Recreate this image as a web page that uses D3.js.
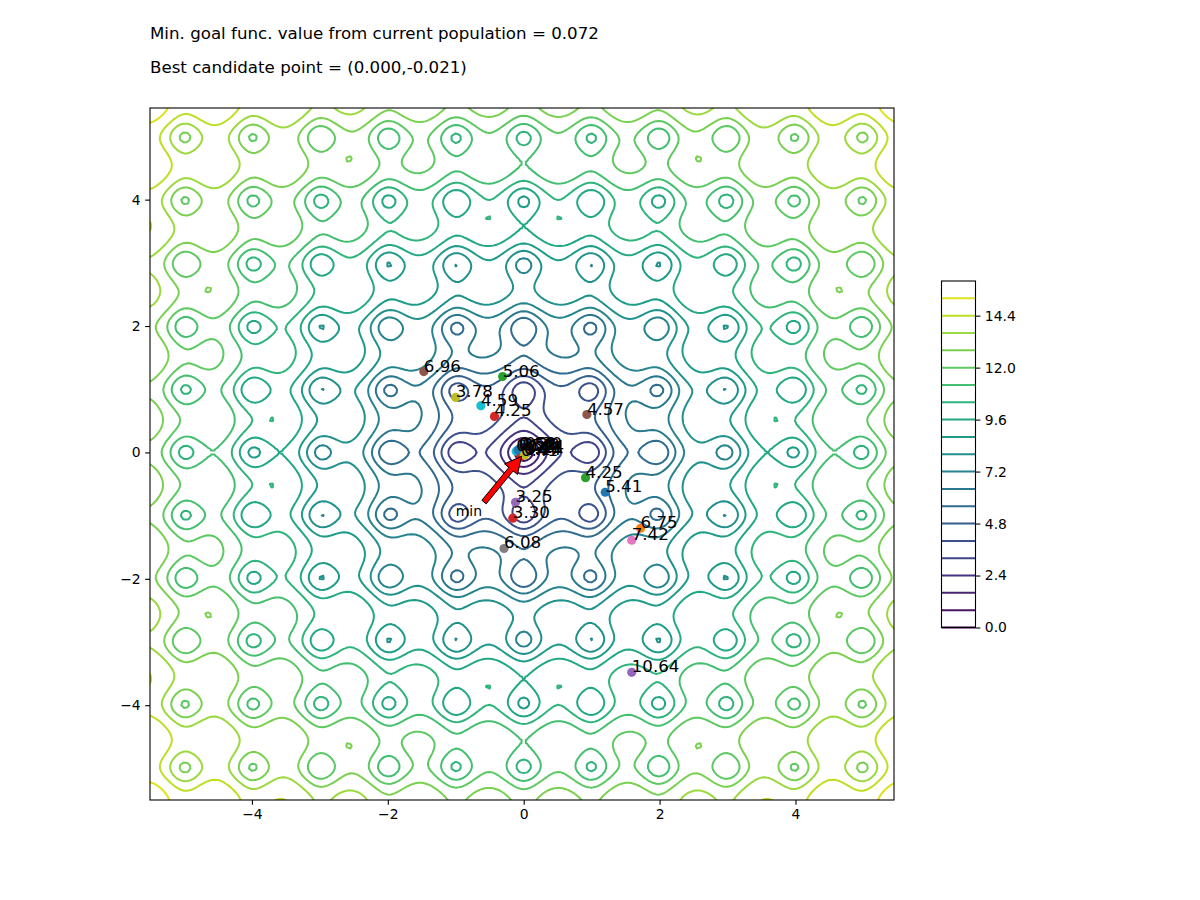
<!DOCTYPE html>
<html>
<head>
<meta charset="utf-8">
<script src="https://cdn.jsdelivr.net/npm/d3@7"></script>
<style>
  html, body { margin: 0; padding: 0; background: #fff; }
  svg { display: block; }
  text { font-family: "DejaVu Sans", sans-serif; fill: #000; }
</style>
</head>
<body>
<svg id="chart" width="1200" height="900"></svg>
<script>
// ---------------- data ----------------
const titleLines = [
  "Min. goal func. value from current population = 0.072",
  "Best candidate point = (0.000,-0.021)"
];
// grid of the goal function (Ackley), np.arange(-5.5, 5.5, 0.05)
const gridStart = -5.5, gridStop = 5.5, gridStep = 0.05;
const goalFunc = (x, y) =>
  -20 * Math.exp(-0.2 * Math.sqrt(0.5 * (x * x + y * y)))
  - Math.exp(0.5 * (Math.cos(2 * Math.PI * x) + Math.cos(2 * Math.PI * y)))
  + Math.E + 20;

const contourLevels = [0.0, 0.8, 1.6, 2.4, 3.2, 4.0, 4.8, 5.6, 6.4, 7.2, 8.0, 8.8,
                       9.6, 10.4, 11.2, 12.0, 12.8, 13.6, 14.4, 15.2];
const colorbarTicks = [0.0, 2.4, 4.8, 7.2, 9.6, 12.0, 14.4];
const xTicks = [-4, -2, 0, 2, 4];
const yTicks = [-4, -2, 0, 2, 4];

// population points
const popX = [-1.47, -0.31, -1.00, -0.63, -0.43, 0.93, 0.91, 1.20, -0.12, -0.16, -0.29, 1.72, 1.59, 1.59,
              -0.11, -0.04, 0.04, 0.00, -0.06, -0.02, 0.02, 0.05, -0.08, 0.01];
const popY = [1.28, 1.20, 0.87, 0.74, 0.57, 0.60, -0.40, -0.63, -0.79, -1.04, -1.52, -1.20, -1.39, -3.48,
              0.02, -0.06, -0.01, -0.021, 0.06, 0.04, 0.05, 0.01, 0.04, -0.04];
const popLabels = ["6.96", "5.06", "3.78", "4.59", "4.25", "4.57", "4.25", "5.41", "3.25", "3.30", "6.08",
                   "6.75", "7.42", "10.64",
                   "0.59", "0.41", "0.21", "0.07", "0.52", "0.28", "0.30", "0.24", "0.50", "0.14"];
const popColors = ["#8c564b", "#2ca02c", "#bcbd22", "#17becf", "#d62728", "#8c564b", "#2ca02c", "#1f77b4",
                   "#9467bd", "#d62728", "#7f7f7f", "#ff7f0e", "#e377c2", "#9467bd",
                   "#17becf", "#d62728", "#2ca02c", "#1f77b4", "#ff7f0e", "#9467bd", "#8c564b", "#e377c2",
                   "#1f77b4", "#bcbd22"];

const bestPoint = [0.000, -0.021];
const minTextPos = [-1.0, -1.0];
const minText = "min";

// ---------------- layout ----------------
const svg = d3.select("#chart");
const ax = { left: 150, top: 108, right: 894, bottom: 800 };
const cb = { left: 941.5, right: 975.5, top: 281, bottom: 627.5 };

const xs = d3.range(gridStart, gridStop - 1e-9, gridStep).map((_, i) => gridStart + i * gridStep);
const n = xs.length;
const xLast = xs[n - 1];

const sx = d3.scaleLinear().domain([gridStart, xLast]).range([ax.left, ax.right]);
const sy = d3.scaleLinear().domain([gridStart, xLast]).range([ax.bottom, ax.top]);
const cbScale = d3.scaleLinear().domain([0, 16]).range([cb.bottom, cb.top]);
const color = v => d3.interpolateViridis(v / 16);

// ---------------- titles ----------------
svg.selectAll("text.title").data(titleLines).join("text")
  .attr("class", "title")
  .attr("x", 150).attr("y", (d, i) => 39 + i * 34)
  .attr("font-size", "16.67px")
  .text(d => d);

// ---------------- contours ----------------
const values = new Float64Array(n * n);
for (let j = 0; j < n; j++) for (let i = 0; i < n; i++) values[j * n + i] = goalFunc(xs[i], xs[j]);

const contours = d3.contours().size([n, n]).thresholds(contourLevels.filter(l => l > 0))(values);
const proj = d3.geoTransform({
  point: function (x, y) {
    this.stream.point(sx(gridStart + (x - 0.5) * gridStep), sy(gridStart + (y - 0.5) * gridStep));
  }
});
const path = d3.geoPath(proj);

svg.append("defs").append("clipPath").attr("id", "axclip")
  .append("rect").attr("x", ax.left).attr("y", ax.top)
  .attr("width", ax.right - ax.left).attr("height", ax.bottom - ax.top);

const plot = svg.append("g").attr("clip-path", "url(#axclip)");
plot.selectAll("path.contour").data(contours).join("path")
  .attr("class", "contour")
  .attr("d", path)
  .attr("fill", "none")
  .attr("stroke", d => color(d.value))
  .attr("stroke-width", 2)
  .attr("stroke-linejoin", "round");

// ---------------- population points ----------------
const pts = popX.map((x, i) => ({ x, y: popY[i], label: popLabels[i], c: popColors[i] }));
plot.selectAll("circle.pt").data(pts).join("circle")
  .attr("class", "pt")
  .attr("cx", d => sx(d.x)).attr("cy", d => sy(d.y))
  .attr("r", 4.6)
  .attr("fill", d => d.c);

plot.selectAll("text.lbl").data(pts).join("text")
  .attr("class", "lbl")
  .attr("x", d => sx(d.x)).attr("y", d => sy(d.y))
  .attr("font-size", "16.67px")
  .text(d => d.label);

// ---------------- min annotation ----------------
const minT = plot.append("text")
  .attr("x", sx(minTextPos[0])).attr("y", sy(minTextPos[1]))
  .attr("font-size", "13.9px")
  .text(minText);
const bb = minT.node().getBBox();
const tip0 = [sx(bestPoint[0]), sy(bestPoint[1])];
const start0 = [bb.x + bb.width, bb.y + 2];
{
  const dx = tip0[0] - start0[0], dy = tip0[1] - start0[1];
  const L = Math.hypot(dx, dy);
  const ux = dx / L, uy = dy / L;
  const shrink = 0.05 * L;
  const S = [start0[0] + ux * shrink, start0[1] + uy * shrink];
  const T = [tip0[0] - ux * shrink, tip0[1] - uy * shrink];
  const nx = -uy, ny = ux;
  const w = 5.56 / 2, hw = 16.67 / 2, hl = 16.67;
  const B = [T[0] - ux * hl, T[1] - uy * hl];
  const poly = [
    [S[0] + nx * w, S[1] + ny * w],
    [B[0] + nx * w, B[1] + ny * w],
    [B[0] + nx * hw, B[1] + ny * hw],
    T,
    [B[0] - nx * hw, B[1] - ny * hw],
    [B[0] - nx * w, B[1] - ny * w],
    [S[0] - nx * w, S[1] - ny * w]
  ];
  plot.append("path")
    .attr("d", d3.line()(poly) + "Z")
    .attr("fill", "#ff0000")
    .attr("stroke", "#000")
    .attr("stroke-width", 1)
    .attr("stroke-linejoin", "miter");
}

// ---------------- axes ----------------
const xAxis = d3.axisBottom(sx).tickValues(xTicks).tickSize(4.86).tickPadding(4.5)
  .tickFormat(d => d3.format("d")(d).replace("-", "\u2212"));
const gx = svg.append("g").attr("transform", `translate(0,${ax.bottom})`).call(xAxis);
const yAxis = d3.axisLeft(sy).tickValues(yTicks).tickSize(4.86).tickPadding(4.5)
  .tickFormat(d => d3.format("d")(d).replace("-", "\u2212"));
const gy = svg.append("g").attr("transform", `translate(${ax.left},0)`).call(yAxis);
[gx, gy].forEach(g => {
  g.select(".domain").remove();
  g.selectAll("line").attr("stroke", "#000").attr("stroke-width", 1.1);
  g.selectAll("text").attr("font-size", "13.9px").attr("font-family", "DejaVu Sans").attr("fill", "#000");
});

svg.append("rect").attr("x", ax.left).attr("y", ax.top)
  .attr("width", ax.right - ax.left).attr("height", ax.bottom - ax.top)
  .attr("fill", "none").attr("stroke", "#000").attr("stroke-width", 1.1);

// ---------------- colorbar ----------------
svg.selectAll("line.cbl").data(contourLevels).join("line")
  .attr("class", "cbl")
  .attr("x1", cb.left).attr("x2", cb.right)
  .attr("y1", d => cbScale(d)).attr("y2", d => cbScale(d))
  .attr("stroke", d => color(d))
  .attr("stroke-width", 2);
svg.append("rect").attr("x", cb.left).attr("y", cb.top)
  .attr("width", cb.right - cb.left).attr("height", cb.bottom - cb.top)
  .attr("fill", "none").attr("stroke", "#000").attr("stroke-width", 1.1);
const cbAxis = d3.axisRight(cbScale).tickValues(colorbarTicks).tickSize(4.86).tickPadding(4.5)
  .tickFormat(d3.format(".1f"));
const gc = svg.append("g").attr("transform", `translate(${cb.right},0)`).call(cbAxis);
gc.select(".domain").remove();
gc.selectAll("line").attr("stroke", "#000").attr("stroke-width", 1.1);
gc.selectAll("text").attr("font-size", "13.9px").attr("font-family", "DejaVu Sans").attr("fill", "#000");
</script>
</body>
</html>
